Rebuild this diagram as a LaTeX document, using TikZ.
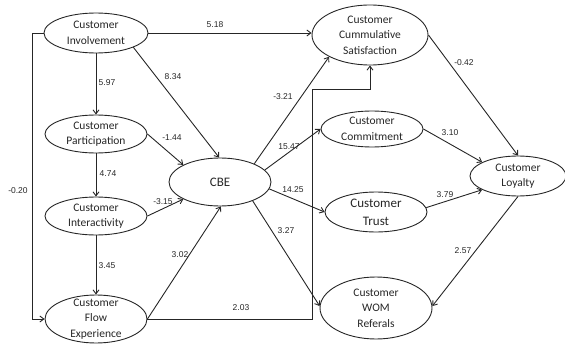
\documentclass[tikz,border=0pt]{standalone}
\usepackage{fontspec}
\setmainfont{Carlito}
\newfontfamily\labfont{Liberation Sans}
\usetikzlibrary{shapes.geometric,arrows.meta}
\begin{document}
\begin{tikzpicture}[x=1pt,y=-1pt,
  ell/.style={ellipse,draw=black!85,line width=0.9pt,inner sep=0pt},
  ltxt/.style={align=center,inner sep=0pt,text=black!85,font=\fontsize{11.5}{15.5}\selectfont},
  btxt/.style={align=center,inner sep=0pt,text=black!85,font=\fontsize{13}{18}\selectfont},
  lab/.style={font=\labfont\fontsize{8.5}{10}\selectfont,text=black!85,inner sep=0pt},
  conn/.style={draw=black!85,line width=0.9pt,-{Straight Barb[length=4pt,width=6pt]}}]
\useasboundingbox (0,0) rectangle (565,345);
% nodes
\node[ell,minimum width=104pt,minimum height=40pt,label={[ltxt]center:Customer\\Involvement}] (inv) at (96,33) {};
\node[ell,minimum width=102pt,minimum height=38pt,label={[ltxt]center:Customer\\Participation}] (par) at (96,134) {};
\node[ell,minimum width=102pt,minimum height=38pt,label={[ltxt]center:Customer\\Interactivity}] (int) at (96,216) {};
\node[ell,minimum width=102pt,minimum height=48pt,label={[ltxt]center:Customer\\Flow\\Experience}] (flow) at (96,319) {};
\node[ell,minimum width=102pt,minimum height=48pt,label={[btxt]center:CBE}] (cbe) at (220,182) {};
\node[ell,minimum width=116pt,minimum height=60pt,label={[ltxt]center:Customer\\Cummulative\\Satisfaction}] (sat) at (370,35) {};
\node[ell,minimum width=102pt,minimum height=36pt,label={[ltxt]center:Customer\\Commitment}] (com) at (372,129) {};
\node[ell,minimum width=102pt,minimum height=40pt,label={[btxt]center:Customer\\Trust}] (tru) at (376,212) {};
\node[ell,minimum width=96pt,minimum height=40pt,label={[ltxt]center:Customer\\Loyalty}] (loy) at (518,176) {};
\node[ell,minimum width=112pt,minimum height=62pt,label={[ltxt]center:Customer\\WOM\\Referals}] (wom) at (376,308) {};
% helper coordinates
\coordinate (lft) at (32,33);
\coordinate (brk) at (312,89);
% connectors
\draw[conn] (inv.east) -- (inv.east -| sat.west);
\draw[conn] (inv.south) -- (par.north);
\draw[conn] (par.south) -- (int.north);
\draw[conn] (int.south) -- (flow.north);
\draw[conn] (inv.-21) -- (cbe.92);
\draw[conn] (par.east) -- (cbe.155);
\draw[conn] (int.east) -- (cbe.205);
\draw[conn] (flow.east) -- (cbe.-88);
\draw[conn] (inv.west) -- (lft) |- (flow.west);
\draw[conn] (flow.east) -| (brk) -| (sat.south);
\draw[conn] (cbe.28) -- (sat.208);
\draw[conn] (cbe.15) -- (com.west);
\draw[conn] (cbe.-8) -- (tru.west);
\draw[conn] (cbe.-30) -- (wom.178);
\draw[conn] (sat.east) -- (loy.north);
\draw[conn] (com.east) -- (loy.159);
\draw[conn] (tru.5) -- (loy.201);
\draw[conn] (loy.south) -- (wom.2);
% labels
\node[lab] (l518) at (215,25) {5.18};
\node[lab] (l597) at (107,83) {5.97};
\node[lab] (l834) at (173,77) {8.34};
\node[lab] (l144) at (172,138) {-1.44};
\node[lab] (l474) at (108,174) {4.74};
\node[lab] (l020) at (18,191) {-0.20};
\node[lab] (l315) at (163,202) {-3.15};
\node[lab] (l345) at (107,266) {3.45};
\node[lab] (l302) at (180,255) {3.02};
\node[lab] (l203) at (241,308) {2.03};
\node[lab] (l321) at (283,97) {-3.21};
\node[lab] (l1547) at (289,147) {15.47};
\node[lab] (l1425) at (293,190) {14.25};
\node[lab] (l327) at (286,231) {3.27};
\node[lab] (l042) at (464,63) {-0.42};
\node[lab] (l310) at (450,133) {3.10};
\node[lab] (l379) at (445,195) {3.79};
\node[lab] (l257) at (463,251) {2.57};
\end{tikzpicture}
\end{document}
